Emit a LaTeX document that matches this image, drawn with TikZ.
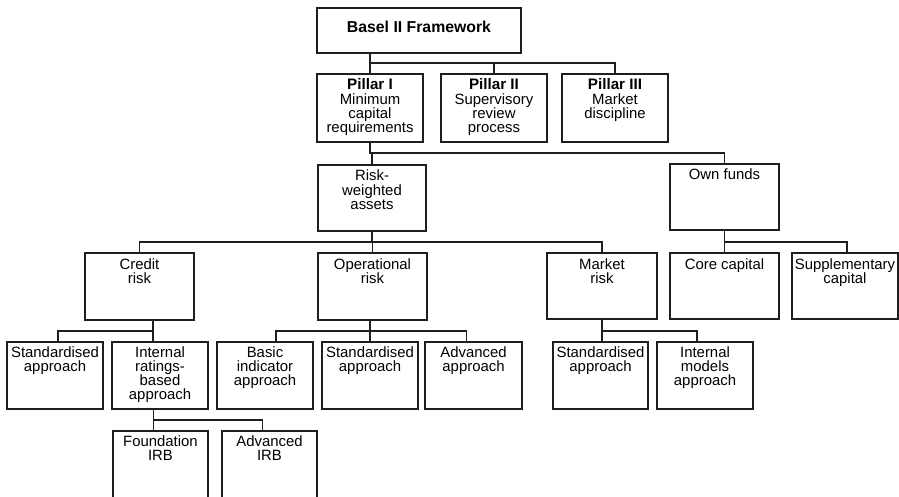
\documentclass[tikz,border=0pt]{standalone}
\usepackage{fontspec}
\setmainfont{Liberation Sans}
\newcommand\bt[4][16pt]{\parbox[c][#3][t]{#2}{\centering\rule{0pt}{#1}#4\par}}
\begin{document}
\begin{tikzpicture}[x=1pt,y=-1pt,
  box/.style={draw=black!88, line width=1.2pt, inner sep=0pt, outer sep=0pt, anchor=north west,
    font=\fontsize{14.9}{14.2}\selectfont},
  conn/.style={draw=black!88, line width=1.2pt}]
\clip (0,0) rectangle (899,497);
\fill[white] (0,0) rectangle (899,497);
% boxes
\node[box] (basel) at (317,8) {\bt[25pt]{204pt}{45pt}{\fontsize{15.8}{14}\selectfont\textbf{Basel II Framework}}};
\node[box] (p1) at (317,74) {\bt{106pt}{68pt}{{\fontsize{15.2}{14}\selectfont\textbf{Pillar I}}\\Minimum\\capital\\requirements}};
\node[box] (p2) at (441,74) {\bt{106pt}{68pt}{{\fontsize{15.2}{14}\selectfont\textbf{Pillar II}}\\Supervisory\\review\\process}};
\node[box] (p3) at (562,74) {\bt{106pt}{68pt}{{\fontsize{15.2}{14}\selectfont\textbf{Pillar III}}\\Market\\discipline}};
\node[box] (rwa) at (318,165) {\bt{108pt}{66pt}{Risk-\\weighted\\assets}};
\node[box] (own) at (670,164) {\bt{109pt}{66pt}{Own funds}};
\node[box] (credit) at (85,253) {\bt{109pt}{67pt}{Credit\\risk}};
\node[box] (oper) at (318,253) {\bt{109pt}{67pt}{Operational\\risk}};
\node[box] (market) at (547,253) {\bt{110pt}{66pt}{Market\\risk}};
\node[box] (core) at (670,253) {\bt{109pt}{66pt}{Core capital}};
\node[box] (supp) at (792,253) {\bt{106pt}{66pt}{Supplementary\\capital}};
\node[box] (cstd) at (7,342) {\bt[15pt]{96pt}{67pt}{Standardised\\approach}};
\node[box] (irb) at (112,342) {\bt[15pt]{96pt}{67pt}{Internal\\ratings-\\based\\approach}};
\node[box] (basic) at (217,342) {\bt[15pt]{96pt}{67pt}{Basic\\indicator\\approach}};
\node[box] (ostd) at (322,342) {\bt[15pt]{96pt}{67pt}{Standardised\\approach}};
\node[box] (oadv) at (425,342) {\bt[15pt]{97pt}{67pt}{Advanced\\approach}};
\node[box] (mstd) at (553,342) {\bt[15pt]{95pt}{67pt}{Standardised\\approach}};
\node[box] (imod) at (657,342) {\bt[15pt]{96pt}{67pt}{Internal\\models\\approach}};
\node[box] (firb) at (113,431) {\bt[15pt]{95pt}{90pt}{Foundation\\IRB}};
\node[box] (airb) at (222,431) {\bt[15pt]{95pt}{90pt}{Advanced\\IRB}};
% bus levels and drop points
\coordinate (bus1) at (0,63);
\coordinate (bus2) at (0,153);
\coordinate (bus3) at (0,242);
\coordinate (bus4) at (0,331);
\coordinate (bus5) at (0,420);
\coordinate (cd) at ([xshift=-7pt]irb.north);
\coordinate (cs) at ([xshift=3pt]cstd.north);
\coordinate (bd) at ([xshift=11pt]basic.north);
\coordinate (ad) at ([xshift=-7pt]oadv.north);
\coordinate (md) at ([xshift=-8pt]imod.north);
\coordinate (sd) at ([xshift=2pt]supp.north);
\coordinate (fd) at ([xshift=-7pt]firb.north);
\coordinate (vd) at ([xshift=-7pt]airb.north);
% level 1
\draw[conn] (basel.south -| p1.north) -- (p1.north);
\draw[conn] (bus1 -| p1.north) -| (p3.north);
\draw[conn] (bus1 -| p2.north) -- (p2.north);
% level 2
\draw[conn] (p1.south) |- (bus2 -| own.north) -- (own.north);
\draw[conn] (bus2 -| rwa.north) -- (rwa.north);
% level 3
\draw[conn] (rwa.south) -- (bus3 -| rwa.south);
\draw[conn] (credit.north) |- (bus3 -| market.north) -- (market.north);
\draw[conn] (bus3 -| oper.north) -- (oper.north);
\draw[conn] (own.south) |- (bus3 -| sd) -- (sd);
\draw[conn] (bus3 -| core.north) -- (core.north);
% level 4
\draw[conn] (credit.south -| cd) -- (cd);
\draw[conn] (cs) |- (bus4 -| cd);
\draw[conn] (oper.south -| ostd.north) -- (ostd.north);
\draw[conn] (bd) |- (bus4 -| ostd.north) -| (ad);
\draw[conn] (market.south) |- (bus4 -| md) -- (md);
\draw[conn] (bus4 -| market.south) -- (mstd.north -| market.south);
% level 5
\draw[conn] (irb.south -| fd) |- (bus5 -| vd) -- (vd);
\draw[conn] (bus5 -| fd) -- (fd);
\end{tikzpicture}
\end{document}
